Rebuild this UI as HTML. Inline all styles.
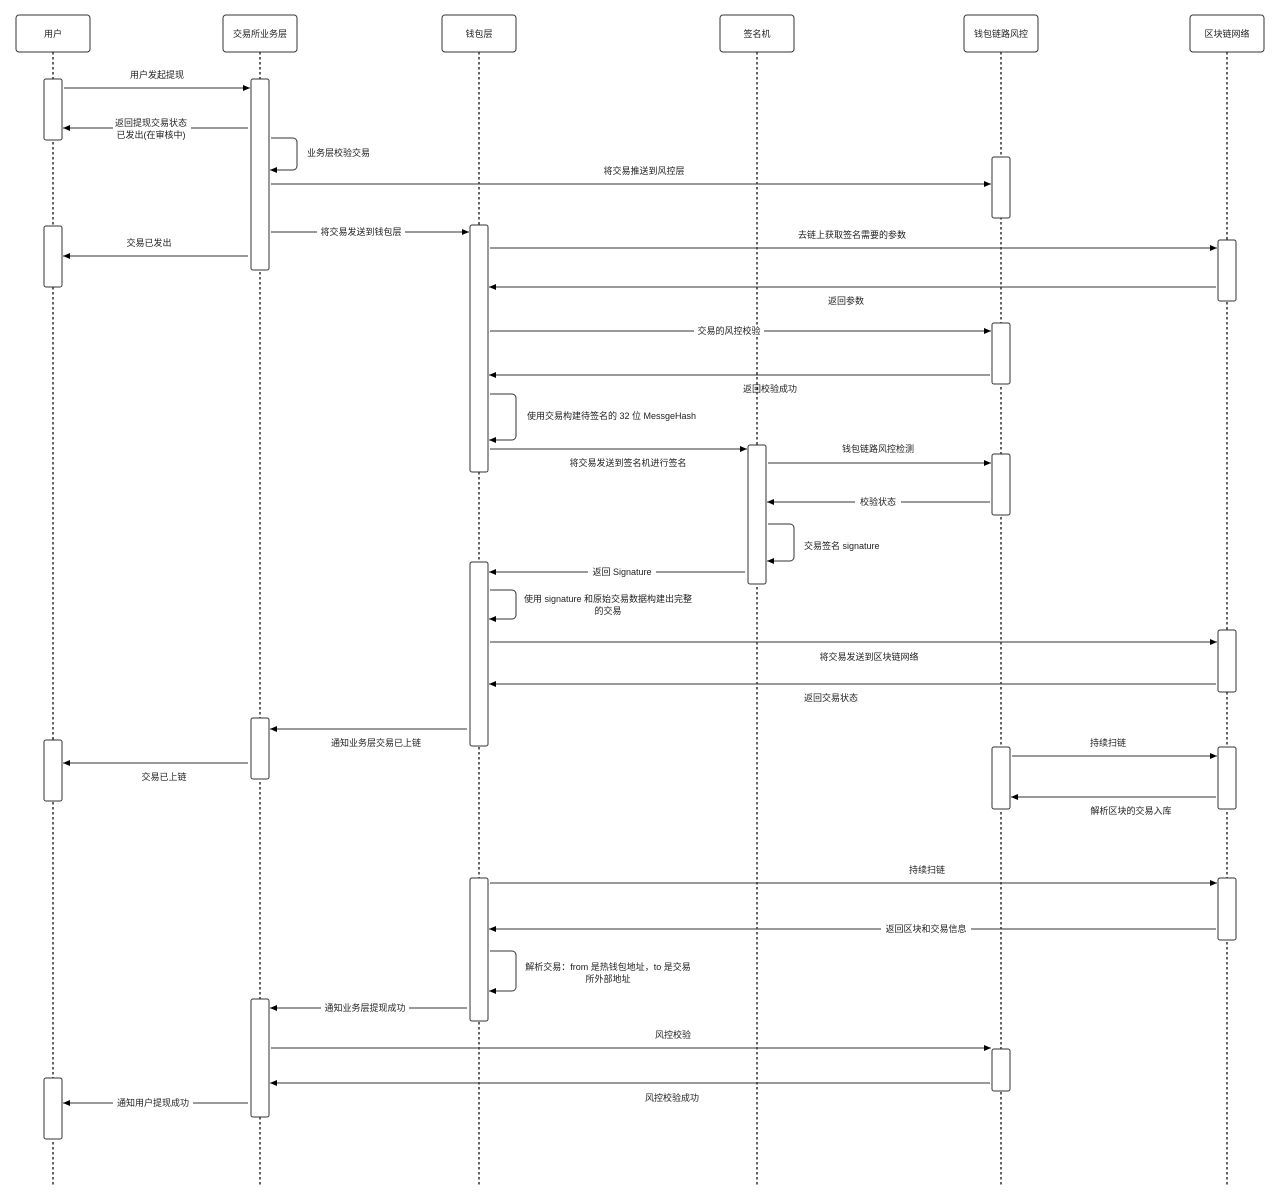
<!DOCTYPE html>
<html><head><meta charset="utf-8"><style>
html,body{margin:0;padding:0;background:#fff}
svg{display:block}
text{font-family:"Liberation Sans","Noto Sans CJK SC",sans-serif;font-size:9px;fill:#222}
.h{font-size:9.5px}
.lf{stroke:#111;stroke-width:1.3;stroke-dasharray:2.5,2.5}
.bx{fill:#fff;stroke:#333;stroke-width:1}
.m{stroke:#333;stroke-width:1;fill:none}
.bg{fill:#fff}
</style></head><body>
<svg width="1280" height="1203" viewBox="0 0 1280 1203" xmlns="http://www.w3.org/2000/svg">
<defs><marker id="a" markerWidth="8" markerHeight="8" refX="7" refY="4" orient="auto" markerUnits="userSpaceOnUse"><path d="M0,1 L7,4 L0,7 z" fill="#000"/></marker></defs>
<!-- lifelines -->
<g class="lf">
<line x1="53" y1="52" x2="53" y2="1187"/><line x1="260" y1="52" x2="260" y2="1187"/>
<line x1="479" y1="52" x2="479" y2="1187"/><line x1="757" y1="52" x2="757" y2="1187"/>
<line x1="1001" y1="52" x2="1001" y2="1187"/><line x1="1227" y1="52" x2="1227" y2="1187"/>
</g>
<!-- headers -->
<g class="bx">
<rect x="16" y="15" width="74" height="37" rx="3"/><rect x="223" y="15" width="74" height="37" rx="3"/>
<rect x="442" y="15" width="74" height="37" rx="3"/><rect x="720" y="15" width="74" height="37" rx="3"/>
<rect x="964" y="15" width="74" height="37" rx="3"/><rect x="1190" y="15" width="74" height="37" rx="3"/>
</g>
<g class="h" text-anchor="middle">
<text x="53" y="37">用户</text><text x="260" y="37">交易所业务层</text><text x="479" y="37">钱包层</text>
<text x="757" y="37">签名机</text><text x="1001" y="37">钱包链路风控</text><text x="1227" y="37">区块链网络</text>
</g>
<!-- activations -->
<g class="bx">
<rect x="44" y="79" width="18" height="61" rx="2"/><rect x="44" y="226" width="18" height="61" rx="2"/>
<rect x="44" y="740" width="18" height="61" rx="2"/><rect x="44" y="1078" width="18" height="61" rx="2"/>
<rect x="251" y="79" width="18" height="191" rx="2"/><rect x="251" y="718" width="18" height="61" rx="2"/>
<rect x="251" y="999" width="18" height="118" rx="2"/>
<rect x="470" y="225" width="18" height="247" rx="2"/><rect x="470" y="562" width="18" height="184" rx="2"/>
<rect x="470" y="878" width="18" height="143" rx="2"/>
<rect x="748" y="445" width="18" height="139" rx="2"/>
<rect x="992" y="157" width="18" height="61" rx="2"/><rect x="992" y="323" width="18" height="61" rx="2"/>
<rect x="992" y="454" width="18" height="61" rx="2"/><rect x="992" y="747" width="18" height="62" rx="2"/>
<rect x="992" y="1049" width="18" height="42" rx="2"/>
<rect x="1218" y="240" width="18" height="61" rx="2"/><rect x="1218" y="630" width="18" height="62" rx="2"/>
<rect x="1218" y="747" width="18" height="62" rx="2"/><rect x="1218" y="878" width="18" height="62" rx="2"/>
</g>
<!-- messages -->
<g class="m" marker-end="url(#a)">
<line x1="64" y1="88" x2="250" y2="88"/>
<line x1="248" y1="128" x2="63" y2="128"/>
<path d="M271,138 H293 a4,4 0 0 1 4,4 V166 a4,4 0 0 1 -4,4 H270"/>
<line x1="271" y1="184" x2="991" y2="184"/>
<line x1="271" y1="232" x2="469" y2="232"/>
<line x1="248" y1="256" x2="63" y2="256"/>
<line x1="490" y1="248" x2="1217" y2="248"/>
<line x1="1216" y1="287" x2="489" y2="287"/>
<line x1="490" y1="331" x2="991" y2="331"/>
<line x1="990" y1="375" x2="489" y2="375"/>
<path d="M490,394 H512 a4,4 0 0 1 4,4 V436 a4,4 0 0 1 -4,4 H489"/>
<line x1="490" y1="449" x2="747" y2="449"/>
<line x1="768" y1="463" x2="991" y2="463"/>
<line x1="990" y1="502" x2="767" y2="502"/>
<path d="M768,524 H790 a4,4 0 0 1 4,4 V557 a4,4 0 0 1 -4,4 H767"/>
<line x1="745" y1="572" x2="489" y2="572"/>
<path d="M490,590 H512 a4,4 0 0 1 4,4 V615 a4,4 0 0 1 -4,4 H489"/>
<line x1="490" y1="642" x2="1217" y2="642"/>
<line x1="1216" y1="684" x2="489" y2="684"/>
<line x1="467" y1="729" x2="270" y2="729"/>
<line x1="248" y1="763" x2="63" y2="763"/>
<line x1="1012" y1="756" x2="1217" y2="756"/>
<line x1="1216" y1="797" x2="1011" y2="797"/>
<line x1="490" y1="883" x2="1217" y2="883"/>
<line x1="1216" y1="929" x2="489" y2="929"/>
<path d="M490,951 H512 a4,4 0 0 1 4,4 V987 a4,4 0 0 1 -4,4 H489"/>
<line x1="467" y1="1008" x2="270" y2="1008"/>
<line x1="271" y1="1048" x2="991" y2="1048"/>
<line x1="990" y1="1083" x2="270" y2="1083"/>
<line x1="248" y1="1103" x2="63" y2="1103"/>
</g>
<!-- inline label backgrounds -->
<g class="bg">
<rect x="113" y="118" width="78" height="22"/>
<rect x="317" y="226" width="88" height="12"/>
<rect x="694" y="325" width="70" height="12"/>
<rect x="855" y="496" width="46" height="12"/>
<rect x="588" y="566" width="68" height="12"/>
<rect x="881" y="923" width="90" height="12"/>
<rect x="321" y="1002" width="88" height="12"/>
<rect x="113" y="1097" width="80" height="12"/>
</g>
<g text-anchor="middle">
<text x="157" y="78">用户发起提现</text>
<text x="151" y="126">返回提现交易状态</text><text x="151" y="138">已发出(在审核中)</text>
<text x="644" y="174">将交易推送到风控层</text>
<text x="361" y="235">将交易发送到钱包层</text>
<text x="149" y="246">交易已发出</text>
<text x="852" y="238">去链上获取签名需要的参数</text>
<text x="846" y="304">返回参数</text>
<text x="729" y="334">交易的风控校验</text>
<text x="770" y="392">返回校验成功</text>
<text x="628" y="466">将交易发送到签名机进行签名</text>
<text x="878" y="452">钱包链路风控检测</text>
<text x="878" y="505">校验状态</text>
<text x="622" y="575">返回 Signature</text>
<text x="608" y="602">使用 signature 和原始交易数据构建出完整</text><text x="608" y="614">的交易</text>
<text x="869" y="660">将交易发送到区块链网络</text>
<text x="831" y="701">返回交易状态</text>
<text x="376" y="746">通知业务层交易已上链</text>
<text x="164" y="780">交易已上链</text>
<text x="1108" y="746">持续扫链</text>
<text x="1131" y="814">解析区块的交易入库</text>
<text x="927" y="873">持续扫链</text>
<text x="926" y="932">返回区块和交易信息</text>
<text x="608" y="970">解析交易：from 是热钱包地址，to 是交易</text><text x="608" y="982">所外部地址</text>
<text x="365" y="1011">通知业务层提现成功</text>
<text x="673" y="1038">风控校验</text>
<text x="672" y="1101">风控校验成功</text>
<text x="153" y="1106">通知用户提现成功</text>
</g>
<g text-anchor="start">
<text x="307" y="156">业务层校验交易</text>
<text x="527" y="419">使用交易构建待签名的 32 位 MessgeHash</text>
<text x="804" y="549">交易签名 signature</text>
</g>
</svg>
</body></html>
